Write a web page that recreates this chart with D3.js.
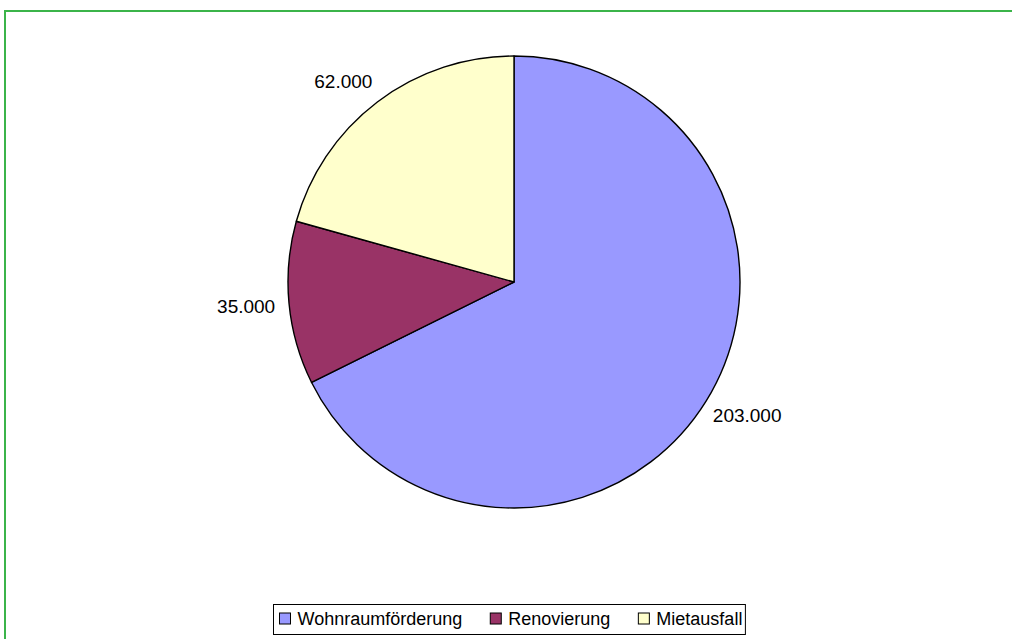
<!DOCTYPE html>
<html>
<head>
<meta charset="utf-8">
<script src="https://cdn.jsdelivr.net/npm/d3@7"></script>
<style>
  body { margin: 0; background: #fff; }
  svg { display: block; font-family: "Liberation Sans", Arial, sans-serif; }
</style>
</head>
<body>
<script>
var categories = ["Wohnraumförderung", "Renovierung", "Mietausfall"],
    values = [203000, 35000, 62000],
    labels = ["203.000", "35.000", "62.000"],
    colors = ["#9999FF", "#993366", "#FFFFCC"];

var width = 1012,
    height = 639,
    cx = 514,
    cy = 282,
    r = 226;

var svg = d3.select("body").append("svg")
  .attr("width", width)
  .attr("height", height);

// green frame (runs off right and bottom)
svg.append("rect")
  .attr("x", 5).attr("y", 11)
  .attr("width", 1012).attr("height", 640)
  .attr("fill", "none")
  .attr("stroke", "#3BB44A")
  .attr("stroke-width", 2);

var pie = d3.pie().sort(null).value(function(d) { return d; });
var arcs = pie(values);

var arc = d3.arc().innerRadius(0).outerRadius(r);

var g = svg.append("g")
  .attr("transform", "translate(" + cx + "," + cy + ")");

g.selectAll("path.slice")
  .data(arcs)
  .enter()
    .append("path")
    .attr("class", "slice")
    .attr("d", arc)
    .attr("fill", function(d, i) { return colors[i]; })
    .attr("stroke", "#000")
    .attr("stroke-width", 1.4)
    .attr("stroke-linejoin", "round");

// data labels outside the pie
var labR = r + 14;
g.selectAll("text.lab")
  .data(arcs)
  .enter()
    .append("text")
    .attr("class", "lab")
    .attr("font-size", 19)
    .attr("fill", "#000")
    .attr("text-anchor", "middle")
    .text(function(d, i) { return labels[i]; })
    .each(function(d) {
      var a = (d.startAngle + d.endAngle) / 2,
          sx = Math.sin(a), sy = -Math.cos(a),
          w = this.getComputedTextLength(), h = 24;
      var x = labR * sx + sx * w / 2 + (sx < 0 && sy < 0 ? -8 : 0),
          y = labR * sy + sy * h / 2;
      d3.select(this).attr("x", x).attr("y", y + 7);
    });

// legend
var leg = svg.append("g");
var box = leg.append("rect")
  .attr("fill", "#fff")
  .attr("stroke", "#000")
  .attr("stroke-width", 1);

var x = 0, itemGap = 28;
categories.forEach(function(c, i) {
  leg.append("rect")
    .attr("x", x).attr("y", 613)
    .attr("width", 11).attr("height", 11)
    .attr("fill", colors[i])
    .attr("stroke", "#000")
    .attr("stroke-width", 1);
  var t = leg.append("text")
    .attr("x", x + 18).attr("y", 625)
    .attr("font-size", 18)
    .attr("fill", "#000")
    .text(c);
  x += 18 + t.node().getComputedTextLength() + itemGap;
});
var legW = x - itemGap;
var legX = 279.5;
leg.attr("transform", "translate(" + legX + ",0)");
box.attr("x", -6).attr("y", 604.5)
  .attr("width", legW + 9).attr("height", 30);
</script>
</body>
</html>
